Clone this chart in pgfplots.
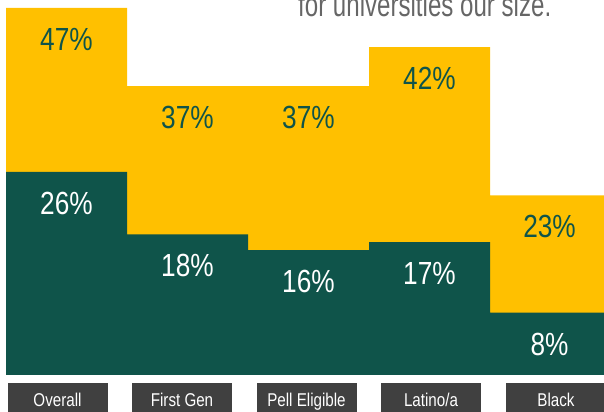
\documentclass[border=0pt]{standalone}
\usepackage{fontspec}
\setmainfont{Liberation Sans}
\newfontfamily\narrow[FakeStretch=0.82]{Liberation Sans}
\newfontfamily\topfont[FakeStretch=0.73]{Liberation Sans}
\usepackage{pgfplots}
\pgfplotsset{compat=1.18}
\definecolor{gold}{HTML}{FFC000}
\definecolor{dgreen}{HTML}{0F544A}
\definecolor{boxgray}{HTML}{404040}
\definecolor{txtgray}{HTML}{666666}
\tikzset{catbox/.style={fill=boxgray, text=white, minimum width=100bp, minimum height=34bp,
    inner sep=0pt, text height=13.3bp, text depth=0pt,
    font=\narrow\fontsize{18.5bp}{18.5bp}\selectfont}}
\begin{document}
\begin{tikzpicture}
\useasboundingbox (0,0) rectangle (604bp,412bp);
\clip (0,0) rectangle (604bp,412bp);
\begin{axis}[
  at={(0,0)}, anchor=south west,
  width=604bp, height=412bp, scale only axis,
  hide axis, clip=false,
  xmin=0, xmax=604, ymin=-4.738, ymax=48.02,
  ybar, bar width=121, bar shift=0pt,
  point meta=y,
  nodes near coords={\pgfmathprintnumber[fixed,precision=0,assume math mode=true]{\pgfplotspointmeta}\%},
  every node near coord/.append style={anchor=center, yshift=-31.5bp,
     font=\narrow\fontsize{32bp}{32bp}\selectfont},
]
\addplot[fill=gold, draw=none, nodes near coords style={text=dgreen}]
  coordinates {(66.5,47) (187.5,37) (308.5,37) (429.5,42) (549.5,23)};
\addplot[fill=dgreen, draw=none, nodes near coords style={text=white}]
  coordinates {(66.5,26) (187.5,18) (308.5,16) (429.5,17) (549.5,8)};
\node[anchor=base west, text=txtgray, font=\topfont\fontsize{33bp}{33bp}\selectfont, inner sep=0pt]
  at (axis cs:298,45.9) {for universities our size.};
\node[catbox] at (axis cs:57.5,-3.2) {Overall};
\node[catbox] at (axis cs:182,-3.2) {First Gen};
\node[catbox] at (axis cs:306.5,-3.2) {Pell Eligible};
\node[catbox] at (axis cs:431,-3.2) {Latino/a};
\node[catbox] at (axis cs:556,-3.2) {Black};
\end{axis}
\end{tikzpicture}
\end{document}
